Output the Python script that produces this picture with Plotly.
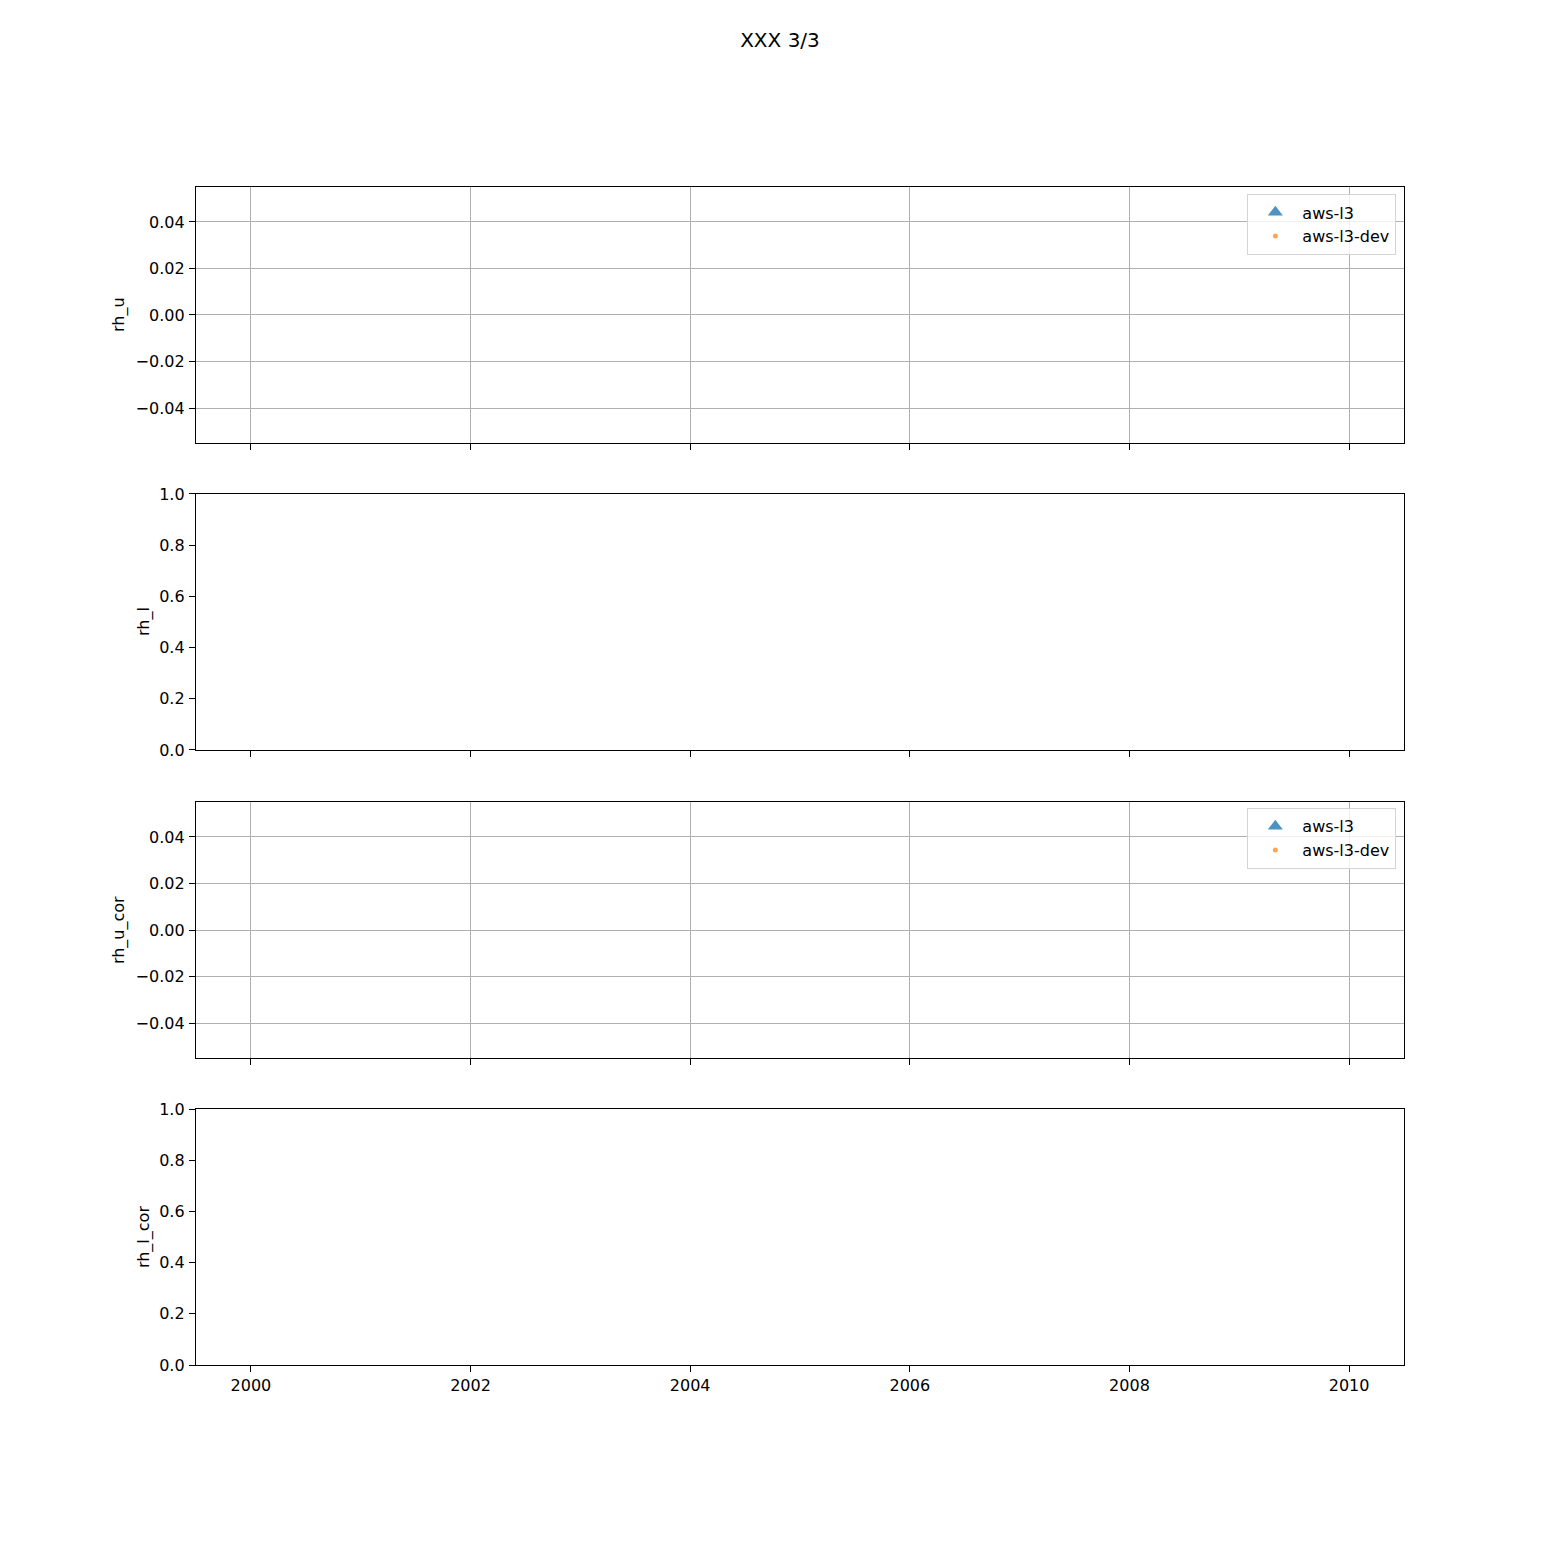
import plotly.graph_objects as go
from plotly.subplots import make_subplots

# panel variables and data sources (all series are empty in the reference)
variables = ["rh_u", "rh_l", "rh_u_cor", "rh_l_cor"]
sources = ["aws-l3", "aws-l3-dev"]
times = {"aws-l3": [], "aws-l3-dev": []}
values = {"aws-l3": [], "aws-l3-dev": []}

x_ticks = [2000, 2002, 2004, 2006, 2008, 2010]
x_range = [1999.5, 2010.5]
zero_ticks = [-0.04, -0.02, 0.00, 0.02, 0.04]
zero_range = [-0.055, 0.055]
unit_ticks = [0.0, 0.2, 0.4, 0.6, 0.8, 1.0]

# panels that have legend + grid (the others draw nothing)
legend_panels = {1: "legend", 3: "legend2"}

domains = [[0.7827, 1.0], [0.5221, 0.7394], [0.2606, 0.4779], [0.0, 0.2173]]
title_x = {1: -0.0637, 2: -0.0430, 3: -0.0637, 4: -0.0430}

FONT = "DejaVu Sans"
FS = 16
BLUE = "rgba(31,119,180,0.8)"
ORANGE = "rgba(255,127,14,0.7)"

fig = make_subplots(rows=4, cols=1, shared_xaxes=True)

for i, var in enumerate(variables, start=1):
    if i in legend_panels:
        lg = legend_panels[i]
        fig.add_trace(go.Scatter(
            x=times["aws-l3"] or [None], y=values["aws-l3"] or [None],
            mode="markers", name=sources[0], legend=lg,
            marker=dict(symbol="triangle-up", size=13, color=BLUE)
        ), row=i, col=1)
        fig.add_trace(go.Scatter(
            x=times["aws-l3-dev"] or [None], y=values["aws-l3-dev"] or [None],
            mode="markers", name=sources[1], legend=lg,
            marker=dict(symbol="circle", size=5, color=ORANGE)
        ), row=i, col=1)
        yticks, yrange, grid = zero_ticks, zero_range, True
        ytext = [f"{v:.2f}".replace("-", "\u2212") for v in yticks]
    else:
        # empty panel: a placeholder trace so the axes get drawn
        fig.add_trace(go.Scatter(x=[None], y=[None], mode="markers",
                                 showlegend=False, hoverinfo="skip"),
                      row=i, col=1)
        yticks, yrange, grid = unit_ticks, [0, 1], False
        ytext = [f"{v:.1f}" for v in yticks]

    axis_common = dict(
        showline=True, linecolor="black", linewidth=1.3, mirror=True,
        ticks="outside", ticklen=6, tickwidth=1.3, tickcolor="black",
        gridcolor="#b0b0b0", gridwidth=1.2, zeroline=False, showgrid=grid,
        tickfont=dict(family=FONT, size=FS, color="black"),
    )
    fig.update_xaxes(
        range=x_range, tickvals=x_ticks, ticktext=[str(t) for t in x_ticks],
        showticklabels=(i == 4), ticklabelstandoff=0,
        row=i, col=1, **axis_common
    )
    fig.update_yaxes(
        range=yrange, tickvals=yticks, ticktext=ytext, domain=domains[i - 1],
        ticklabelstandoff=1, row=i, col=1, **axis_common
    )
    fig.add_annotation(
        text=var, textangle=-90, showarrow=False,
        xref="paper", yref="paper", x=title_x[i],
        y=(domains[i - 1][0] + domains[i - 1][1]) / 2,
        xanchor="center", yanchor="middle",
        font=dict(family=FONT, size=FS, color="black")
    )

legend_style = dict(
    xanchor="right", yanchor="top", x=0.9934,
    bgcolor="rgba(255,255,255,0.8)", bordercolor="#d4d4d4", borderwidth=1.3,
    font=dict(family=FONT, size=FS, color="black"),
    itemsizing="trace", itemwidth=44,
)

# the page has an 8px body margin, so the margins are shifted by that much
fig.update_layout(
    width=1560, height=1560,
    margin=dict(l=188, r=164, t=179, b=203),
    paper_bgcolor="white", plot_bgcolor="white",
    title=dict(text="XXX 3/3", x=772 / 1560, xanchor="center", y=1 - 32 / 1560,
               yanchor="middle", font=dict(family=FONT, size=20, color="black")),
    legend=dict(y=0.9940, **legend_style),
    legend2=dict(y=0.4728, **legend_style),
    showlegend=True,
)

fig.write_html("out.html")
